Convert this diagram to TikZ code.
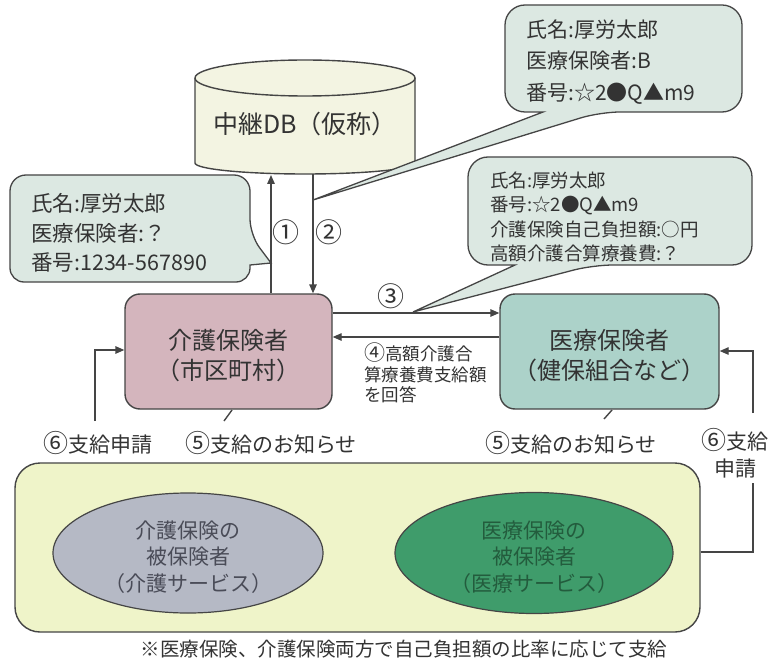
\documentclass[tikz,border=0pt]{standalone}
\usepackage{fontspec}
\setmainfont{Noto Sans CJK JP}
\usetikzlibrary{arrows.meta,shapes.geometric}
\definecolor{ln}{HTML}{454545}
\definecolor{txtc}{HTML}{333333}
\definecolor{callfill}{HTML}{DCE8E2}
\definecolor{dbfill}{HTML}{F3F4E2}
\definecolor{kaigofill}{HTML}{D4B5BD}
\definecolor{iryofill}{HTML}{ACD2C9}
\definecolor{bigfill}{HTML}{EFF4C9}
\definecolor{grayell}{HTML}{B5B9C5}
\definecolor{greenell}{HTML}{3F9C6B}
\definecolor{greentxt}{HTML}{235C3D}
\definecolor{graytxt}{HTML}{4A4C58}
\newcommand{\cnm}[1]{{\fontsize{27}{27}\selectfont #1}}
\newcommand{\cns}[1]{{\fontsize{25}{25}\selectfont #1}}
\begin{document}
\begin{tikzpicture}[x=1pt,y=-1pt,
  line/.style={draw=ln, line width=1.4pt},
  arr/.style={draw=ln, line width=1.4pt, -{Triangle[length=9pt,width=7.5pt]}},
  callout/.style={fill=callfill, draw=ln, line width=1.3pt},
  txt/.style={text=txtc, inner sep=0pt, align=left},
  mainbox/.style={draw=ln, line width=1.4pt, rounded corners=15pt, minimum height=115pt, inner sep=0pt},
  boxtxt/.style={text=txtc, inner sep=0pt, align=center, font=\fontsize{24}{30}\selectfont},
  ell/.style={ellipse, draw=ln, line width=1.2pt, inner sep=0pt},
  elltxt/.style={inner sep=0pt, align=center, font=\fontsize{21}{26.5}\selectfont},
  lab/.style={text=txtc, inner sep=0pt, align=center, font=\fontsize{21}{27}\selectfont}
]
\useasboundingbox (0,0) rectangle (783,668);
\fill[white] (0,0) rectangle (783,668);

% big lower box
\node[draw=ln, line width=1.4pt, fill=bigfill, rounded corners=25pt, minimum width=685pt, minimum height=169pt, inner sep=0pt] (big) at (357.5,547.5) {};
\node[ell, fill=grayell, minimum width=270pt, minimum height=120pt] (ek) at (188,553) {};
\node[elltxt, text=graytxt] (ekt) at (188,557) {介護保険の\\被保険者\\（介護サービス）};
\node[ell, fill=greenell, minimum width=278pt, minimum height=121pt] (ei) at (534,553) {};
\node[elltxt, text=greentxt] (eit) at (534,557) {医療保険の\\被保険者\\（医療サービス）};

% database cylinder
\fill[dbfill] (195,78) -- (195,163) arc[start angle=180,end angle=0,x radius=110,y radius=11] -- (415,78) -- cycle;
\draw[line] (195,78) -- (195,163) arc[start angle=180,end angle=0,x radius=110,y radius=11] -- (415,78);
\draw[line, fill=dbfill] (305,78) ellipse [x radius=110, y radius=18];
\node[txt, font=\fontsize{25}{30}\selectfont] (db) at (305,124) {中継DB（仮称）};
\coordinate (db1) at (271,175);
\coordinate (db2) at (313,174);

% main boxes
\node[mainbox, fill=kaigofill, minimum width=207pt] (kaigo) at (228.5,351.5) {};
\node[boxtxt] (kaigot) at (228.5,355.5) {介護保険者\\（市区町村）};
\node[mainbox, fill=iryofill, minimum width=219pt] (iryo) at (609.5,351.5) {};
\node[boxtxt] (iryot) at (609.5,355.5) {医療保険者\\（健保組合など）};

% callouts
\draw[callout] (10,230) [rounded corners=16pt] -- (10,175) -- (250,175) -- (250,235) [sharp corners] -- (271,263) -- (250,265) -- (250,268) [rounded corners=14pt] -- (250,282) -- (10,282) -- cycle;
\node[txt, anchor=west, font=\fontsize{21.5}{29.5}\selectfont] (c1) at (31,233) {氏名:厚労太郎\\医療保険者:？\\番号:1234-567890};

\draw[callout] (505,60) [rounded corners=20pt] -- (505,5) -- (742,5) -- (742,112) -- (600,112) [sharp corners] -- (313,200) -- (543,112) -- (525,112) [rounded corners=20pt] -- (505,112) -- cycle;
\node[txt, anchor=west, font=\fontsize{21}{31.5}\selectfont] (c2) at (526,62) {氏名:厚労太郎\\医療保険者:B\\番号:☆2●Q▲m9};

\draw[callout] (468,210) [rounded corners=20pt] -- (468,157) -- (752,157) -- (752,265) -- (593,265) [sharp corners] -- (413,312) -- (515,265) -- (500,265) [rounded corners=20pt] -- (468,265) -- cycle;
\node[txt, anchor=west, font=\fontsize{18.5}{24.5}\selectfont] (c3) at (490,217) {氏名:厚労太郎\\番号:☆2●Q▲m9\\介護保険自己負担額:○円\\高額介護合算療養費:？};

% arrows 1, 2
\draw[arr] (kaigo.north -| db1) -- (db1);
\draw[arr] (db2) -- (kaigo.north -| db2);
\node[lab] (n1) at (286,232) {\cnm{①}};
\node[lab] (n2) at (329,232) {\cnm{②}};

% arrows 3, 4
\coordinate (y3) at (0,313);
\coordinate (y4) at (0,337);
\draw[arr] (kaigo.east |- y3) -- (iryo.west |- y3);
\draw[arr] (iryo.west |- y4) -- (kaigo.east |- y4);
\node[lab] (n3) at (391,296) {\cnm{③}};
\node[txt, anchor=west, font=\fontsize{17.5}{20.5}\selectfont] (n4) at (364,373) {{\fontsize{21}{20}\selectfont ④}高額介護合\\算療養費支給額\\を回答};

% 5 and 6 labels
\node[lab] (l6) at (98,443) {\cns{⑥}支給申請};
\node[lab] (l5a) at (271,443) {\cns{⑤}支給のお知らせ};
\node[lab] (l5b) at (571,443) {\cns{⑤}支給のお知らせ};
\node[lab] (l6b) at (735,453) {\cns{⑥}支給\\申請};

\coordinate (s6) at (95,421);
\coordinate (y6) at (0,350);
\draw[arr] (s6) |- (kaigo.west |- y6);

\coordinate (t5a) at (232,410);
\coordinate (t5ae) at (224,421);
\draw[line] (t5a) -- (t5ae);
\coordinate (t5b) at (612,410);
\coordinate (t5be) at (604,419);
\draw[line] (t5b) -- (t5be);

\coordinate (r6a) at (753,483);
\coordinate (r6b) at (753,413);
\coordinate (y6r) at (0,351);
\coordinate (y6s) at (0,552);
\draw[line] (big.east |- y6s) -| (r6a);
\draw[arr] (r6b) |- (iryo.east |- y6r);

% footnote
\node[txt, font=\fontsize{19.5}{24}\selectfont] (foot) at (404,649) {※医療保険、介護保険両方で自己負担額の比率に応じて支給};
\end{tikzpicture}
\end{document}
